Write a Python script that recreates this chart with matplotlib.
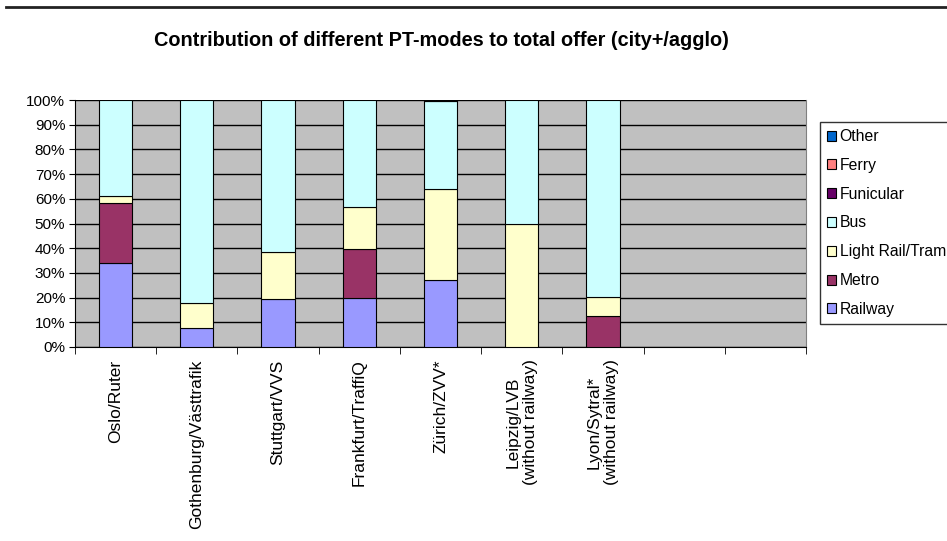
import matplotlib.pyplot as plt
from matplotlib.patches import Patch
from matplotlib.lines import Line2D
import numpy as np

plt.rcParams['font.family'] = ['Liberation Sans', 'DejaVu Sans']

cities = ['Oslo/Ruter', 'Gothenburg/Västtrafik', 'Stuttgart/VVS', 'Frankfurt/TraffiQ',
          'Zürich/ZVV*', 'Leipzig/LVB\n(without railway)', 'Lyon/Sytral*\n(without railway)', '', '']

# shares in percent, bottom to top
railway   = [34.0, 7.7, 19.4, 20.0, 27.3, 0.0, 0.0, 0, 0]
metro     = [24.2, 0.0, 0.0, 19.6, 0.0, 0.0, 12.7, 0, 0]
lightrail = [2.8, 10.3, 19.1, 17.0, 36.6, 50.0, 7.4, 0, 0]
bus       = [39.0, 82.0, 61.5, 43.4, 35.6, 50.0, 79.9, 0, 0]
funicular = [0.0, 0.0, 0.0, 0.0, 0.3, 0.0, 0.0, 0, 0]
ferry     = [0.0, 0.0, 0.0, 0.0, 0.0, 0.0, 0.0, 0, 0]
other     = [0.0, 0.0, 0.0, 0.0, 0.2, 0.0, 0.0, 0, 0]

modes = ['Railway', 'Metro', 'Light Rail/Tram', 'Bus', 'Funicular', 'Ferry', 'Other']
series = [railway, metro, lightrail, bus, funicular, ferry, other]
colors = ['#9999FF', '#993366', '#FFFFCC', '#CCFFFF', '#660066', '#FF8080', '#0066CC']

fig = plt.figure(figsize=(9.47, 5.41), dpi=100)
ax = fig.add_axes([75/947, 1 - 347/541, 731/947, 247/541])
ax.set_facecolor('#C0C0C0')

x = np.arange(len(cities))
bottom = np.zeros(len(cities))
for vals, col in zip(series, colors):
    vals = np.array(vals, dtype=float)
    nz = vals > 0
    if nz.any():
        ax.bar(x[nz], vals[nz], 0.41, bottom=bottom[nz], color=col, edgecolor='black',
               linewidth=0.8, zorder=3)
    bottom += vals

ax.set_xlim(-0.5, len(cities) - 0.5)
ax.set_ylim(0, 100)
ax.set_yticks(range(0, 101, 10))
ax.set_yticklabels([f'{v}%' for v in range(0, 101, 10)], fontsize=11)
ax.yaxis.grid(True, color='black', linewidth=1, zorder=1)
ax.set_axisbelow(True)

ax.set_xticks(x)
ax.set_xticklabels(cities, rotation=90, fontsize=12.5, va='top', ha='center', multialignment='center')
ax.set_xticks(np.arange(-0.5, len(cities)), minor=True)
ax.tick_params(axis='x', which='major', length=0, pad=9)
ax.tick_params(axis='x', which='minor', length=5, direction='out', color='black')
ax.tick_params(axis='y', length=4, direction='out', pad=3)

ax.spines['top'].set_visible(False)
ax.spines['right'].set_color('#808080')
ax.spines['left'].set_color('black')
ax.spines['bottom'].set_color('black')

fig.text(441/947, 1 - 41/541, 'Contribution of different PT-modes to total offer (city+/agglo)',
         ha='center', va='center', fontsize=14.3, fontweight='bold')

handles = [Patch(facecolor=c, edgecolor='black', linewidth=0.8, label=m)
           for m, c in zip(modes, colors)][::-1]
leg = fig.legend(handles=handles, loc='upper left', bbox_to_anchor=(820/947, 1 - 122/541),
                 fontsize=11.3, frameon=True, fancybox=False, edgecolor='black',
                 handlelength=0.6, handleheight=0.6, handletextpad=0.2,
                 labelspacing=0.88, borderpad=0.45, borderaxespad=0)
leg.get_frame().set_linewidth(1)

fig.add_artist(Line2D([6/947, 1], [1 - 7/541, 1 - 7/541], color='#222222', linewidth=2,
                      transform=fig.transFigure))

fig.savefig('out.png', dpi=100)
